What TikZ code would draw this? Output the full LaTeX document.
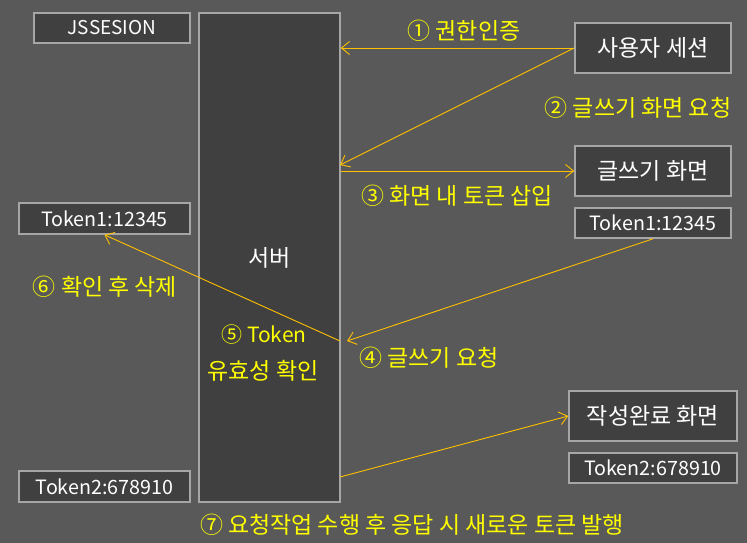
\documentclass[tikz,border=0pt]{standalone}
\usepackage{fontspec}
\setmainfont{Noto Sans CJK KR}
\usetikzlibrary{arrows.meta}

\definecolor{bgcol}{HTML}{595959}
\definecolor{boxfill}{HTML}{404040}
\definecolor{boxline}{HTML}{A6A6A6}
\definecolor{linecol}{HTML}{FFC000}
\definecolor{labelcol}{HTML}{FFFF00}

\tikzset{
  box/.style={draw=boxline, line width=1.6pt, fill=boxfill, text=white,
    inner sep=0pt, font=\fontsize{23}{26}\selectfont},
  tokbox/.style={box, font=\fontsize{19.7}{22}\selectfont},
  flow/.style={draw=linecol, line width=0.9pt,
    -{Straight Barb[length=8pt, width=13pt]}},
  lbl/.style={text=labelcol, inner sep=0pt, font=\fontsize{23}{26}\selectfont}
}

\begin{document}
\begin{tikzpicture}[x=1pt, y=-1pt]
  % Background
  \fill[bgcol] (0,0) rectangle (747,543);
  \useasboundingbox (0,0) rectangle (747,543);

  % Define boxes
  \node[box, font=\fontsize{19}{22}\selectfont, minimum width=156pt, minimum height=30pt] (jsession) at (112,28) {JSSESION};
  \node[box, minimum width=141pt, minimum height=489pt] (server) at (269.5,257.5) {서버};
  \node[box, minimum width=156pt, minimum height=50pt] (session) at (653,48) {사용자 세션};
  \node[box, minimum width=156pt, minimum height=50pt] (writepage) at (653,171) {글쓰기 화면};
  \node[tokbox, minimum width=156pt, minimum height=30pt] (tokA) at (653,223) {Token1:12345};
  \node[tokbox, minimum width=171pt, minimum height=31pt] (tokAleft) at (104.5,218.5) {Token1:12345};
  \node[box, minimum width=168pt, minimum height=50pt] (donepage) at (653,416) {작성완료 화면};
  \node[tokbox, minimum width=168pt, minimum height=30pt] (tokB) at (653,468) {Token2:678910};
  \node[tokbox, minimum width=171pt, minimum height=31pt] (tokBleft) at (104.5,486.5) {Token2:678910};

  % Define free ends on the server
  \coordinate (reqIn) at (340,165);
  \coordinate (postIn) at (347,341);
  \coordinate (checkOut) at (340,341);
  \coordinate (respOut) at (340,477);

  % Draw connectors
  \draw[flow] (session.west) -- (session.west -| server.east);
  \draw[flow] (session.west) -- (reqIn);
  \draw[flow] (writepage.west -| server.east) -- (writepage.west);
  \draw[flow] (tokA.south) -- (postIn);
  \draw[flow] (checkOut) -- (tokAleft.south);
  \draw[flow] (respOut) -- (donepage.west);

  % Label steps
  \node[lbl] (stepA) at (464,31) {① 권한인증};
  \node[lbl] (stepB) at (638,108) {② 글쓰기 화면 요청};
  \node[lbl] (stepC) at (457,196) {③ 화면 내 토큰 삽입};
  \node[lbl] (stepD) at (429,358) {④ 글쓰기 요청};
  \node[lbl, font=\fontsize{21}{24}\selectfont] (stepE) at (264,335) {⑤ Token};
  \node[lbl] (stepEb) at (263,371) {유효성 확인};
  \node[lbl] (stepF) at (105,287) {⑥ 확인 후 삭제};
  \node[lbl] (stepG) at (412,525) {⑦ 요청작업 수행 후 응답 시 새로운 토큰 발행};
\end{tikzpicture}
\end{document}
